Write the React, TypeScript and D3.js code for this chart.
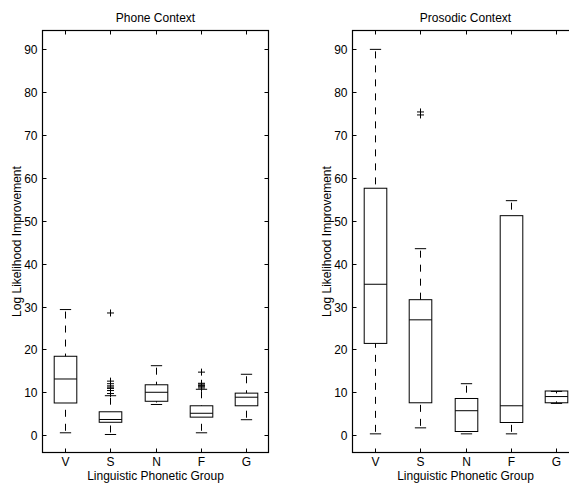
import { useEffect, useRef } from 'react';
import * as d3 from 'd3';

// shared categories and ticks
const groups = ['V', 'S', 'N', 'F', 'G'];
const yTicks = [0, 10, 20, 30, 40, 50, 60, 70, 80, 90];

// Phone Context
const phoneLowWhisker = [0.55, 0.15, 7.15, 0.55, 3.6];
const phoneQ1 = [7.5, 3.0, 7.9, 4.2, 6.85];
const phoneMedian = [13.1, 3.65, 10.0, 5.1, 8.85];
const phoneQ3 = [18.4, 5.45, 11.75, 6.85, 9.8];
const phoneHighWhisker = [29.3, 9.2, 16.2, 10.7, 14.2];
const phoneOutliers = [
  [],
  [9.7, 10.4, 10.9, 11.2, 11.5, 12.0, 12.6, 28.5],
  [],
  [11.0, 11.3, 11.6, 11.9, 12.1, 14.7],
  [],
];

// Prosodic Context
const prosLowWhisker = [0.3, 1.7, 0.3, 0.3, 7.4];
const prosQ1 = [21.4, 7.55, 0.85, 2.95, 7.55];
const prosMedian = [35.2, 26.9, 5.7, 6.85, 9.0];
const prosQ3 = [57.6, 31.6, 8.55, 51.2, 10.3];
const prosHighWhisker = [90.0, 43.5, 12.0, 54.7, 10.2];
const prosOutliers = [[], [74.7, 75.4], [], [], []];

type Panel = {
  title: string;
  left: number;
  lo: number[];
  q1: number[];
  med: number[];
  q3: number[];
  hi: number[];
  out: number[][];
};

const panels: Panel[] = [
  { title: 'Phone Context', left: 42.5, lo: phoneLowWhisker, q1: phoneQ1, med: phoneMedian, q3: phoneQ3, hi: phoneHighWhisker, out: phoneOutliers },
  { title: 'Prosodic Context', left: 352.5, lo: prosLowWhisker, q1: prosQ1, med: prosMedian, q3: prosQ3, hi: prosHighWhisker, out: prosOutliers },
];

const App = () => {
  const svgRef = useRef<SVGSVGElement>(null);

  useEffect(() => {
    const svg = d3.select(svgRef.current);
    svg.selectAll('*').remove();

    const width = 226;
    const top = 30.5;
    const bottom = 452.5;
    const font = 'Liberation Sans, Arial, Helvetica, sans-serif';
    const fs = 12;

    panels.forEach((p) => {
      const x = d3.scaleLinear().domain([0.5, 5.5]).range([p.left, p.left + width]);
      const y = d3.scaleLinear().domain([-4.05, 94.4]).range([bottom, top]);
      const g = svg.append('g');

      // axes frame
      g.append('rect')
        .attr('x', p.left)
        .attr('y', top)
        .attr('width', width)
        .attr('height', bottom - top)
        .attr('fill', 'none')
        .attr('stroke', '#000')
        .attr('stroke-width', 1.2);

      // y ticks (inward, both sides)
      yTicks.forEach((t) => {
        const yy = Math.round(y(t)) + 0.5;
        g.append('line').attr('x1', p.left).attr('x2', p.left + 4).attr('y1', yy).attr('y2', yy).attr('stroke', '#000');
        g.append('line').attr('x1', p.left + width).attr('x2', p.left + width - 4).attr('y1', yy).attr('y2', yy).attr('stroke', '#000');
        g.append('text')
          .attr('x', p.left - 5)
          .attr('y', yy + 4.3)
          .attr('text-anchor', 'end')
          .attr('font-family', font)
          .attr('font-size', fs)
          .attr('fill', '#000')
          .text(t);
      });

      // x ticks (inward, top and bottom)
      groups.forEach((c, i) => {
        const xx = Math.round(x(i + 1)) + 0.5;
        g.append('line').attr('x1', xx).attr('x2', xx).attr('y1', bottom).attr('y2', bottom - 4).attr('stroke', '#000');
        g.append('line').attr('x1', xx).attr('x2', xx).attr('y1', top).attr('y2', top + 4).attr('stroke', '#000');
        g.append('text')
          .attr('x', xx)
          .attr('y', 466)
          .attr('text-anchor', 'middle')
          .attr('font-family', font)
          .attr('font-size', fs)
          .attr('fill', '#000')
          .text(c);
      });

      // boxes
      groups.forEach((_, i) => {
        const cx = Math.round(x(i + 1)) + 0.5;
        const bw = x(0.75) - x(0.5);
        const cw = x(0.625) - x(0.5);

        // dashed whiskers
        g.append('line').attr('x1', cx).attr('x2', cx).attr('y1', y(p.hi[i]) + 2).attr('y2', y(p.q3[i]))
          .attr('stroke', '#000').attr('stroke-dasharray', '7,7');
        g.append('line').attr('x1', cx).attr('x2', cx).attr('y1', y(p.lo[i]) - 2).attr('y2', y(p.q1[i]))
          .attr('stroke', '#000').attr('stroke-dasharray', '7,7');

        // caps
        [p.hi[i], p.lo[i]].forEach((v) => {
          g.append('line').attr('x1', cx - cw).attr('x2', cx + cw).attr('y1', y(v)).attr('y2', y(v)).attr('stroke', '#000');
        });

        g.append('rect')
          .attr('x', cx - bw)
          .attr('y', y(p.q3[i]))
          .attr('width', bw * 2)
          .attr('height', y(p.q1[i]) - y(p.q3[i]))
          .attr('fill', 'none')
          .attr('stroke', '#000');

        g.append('line').attr('x1', cx - bw).attr('x2', cx + bw).attr('y1', y(p.med[i])).attr('y2', y(p.med[i])).attr('stroke', '#000');

        // outliers
        p.out[i].forEach((v) => {
          const oy = y(v);
          g.append('line').attr('x1', cx - 3.5).attr('x2', cx + 3.5).attr('y1', oy).attr('y2', oy).attr('stroke', '#000');
          g.append('line').attr('x1', cx).attr('x2', cx).attr('y1', oy - 3.5).attr('y2', oy + 3.5).attr('stroke', '#000');
        });
      });

      // titles and labels
      const mid = p.left + width / 2;
      g.append('text')
        .attr('x', mid)
        .attr('y', 22)
        .attr('text-anchor', 'middle')
        .attr('font-family', font)
        .attr('font-size', fs)
        .attr('fill', '#000')
        .text(p.title);

      g.append('text')
        .attr('x', mid)
        .attr('y', 479.5)
        .attr('text-anchor', 'middle')
        .attr('font-family', font)
        .attr('font-size', fs)
        .attr('fill', '#000')
        .text('Linguistic Phonetic Group');

      g.append('text')
        .attr('transform', `translate(${p.left - 22},${(top + bottom) / 2}) rotate(-90)`)
        .attr('text-anchor', 'middle')
        .attr('font-family', font)
        .attr('font-size', fs)
        .attr('fill', '#000')
        .text('Log Likelihood Improvement');
    });
  }, []);

  return (
    <svg
      ref={svgRef}
      width={569}
      height={483}
      style={{ position: 'absolute', left: 0, top: 0, background: '#fff' }}
    />
  );
};

export default App;
